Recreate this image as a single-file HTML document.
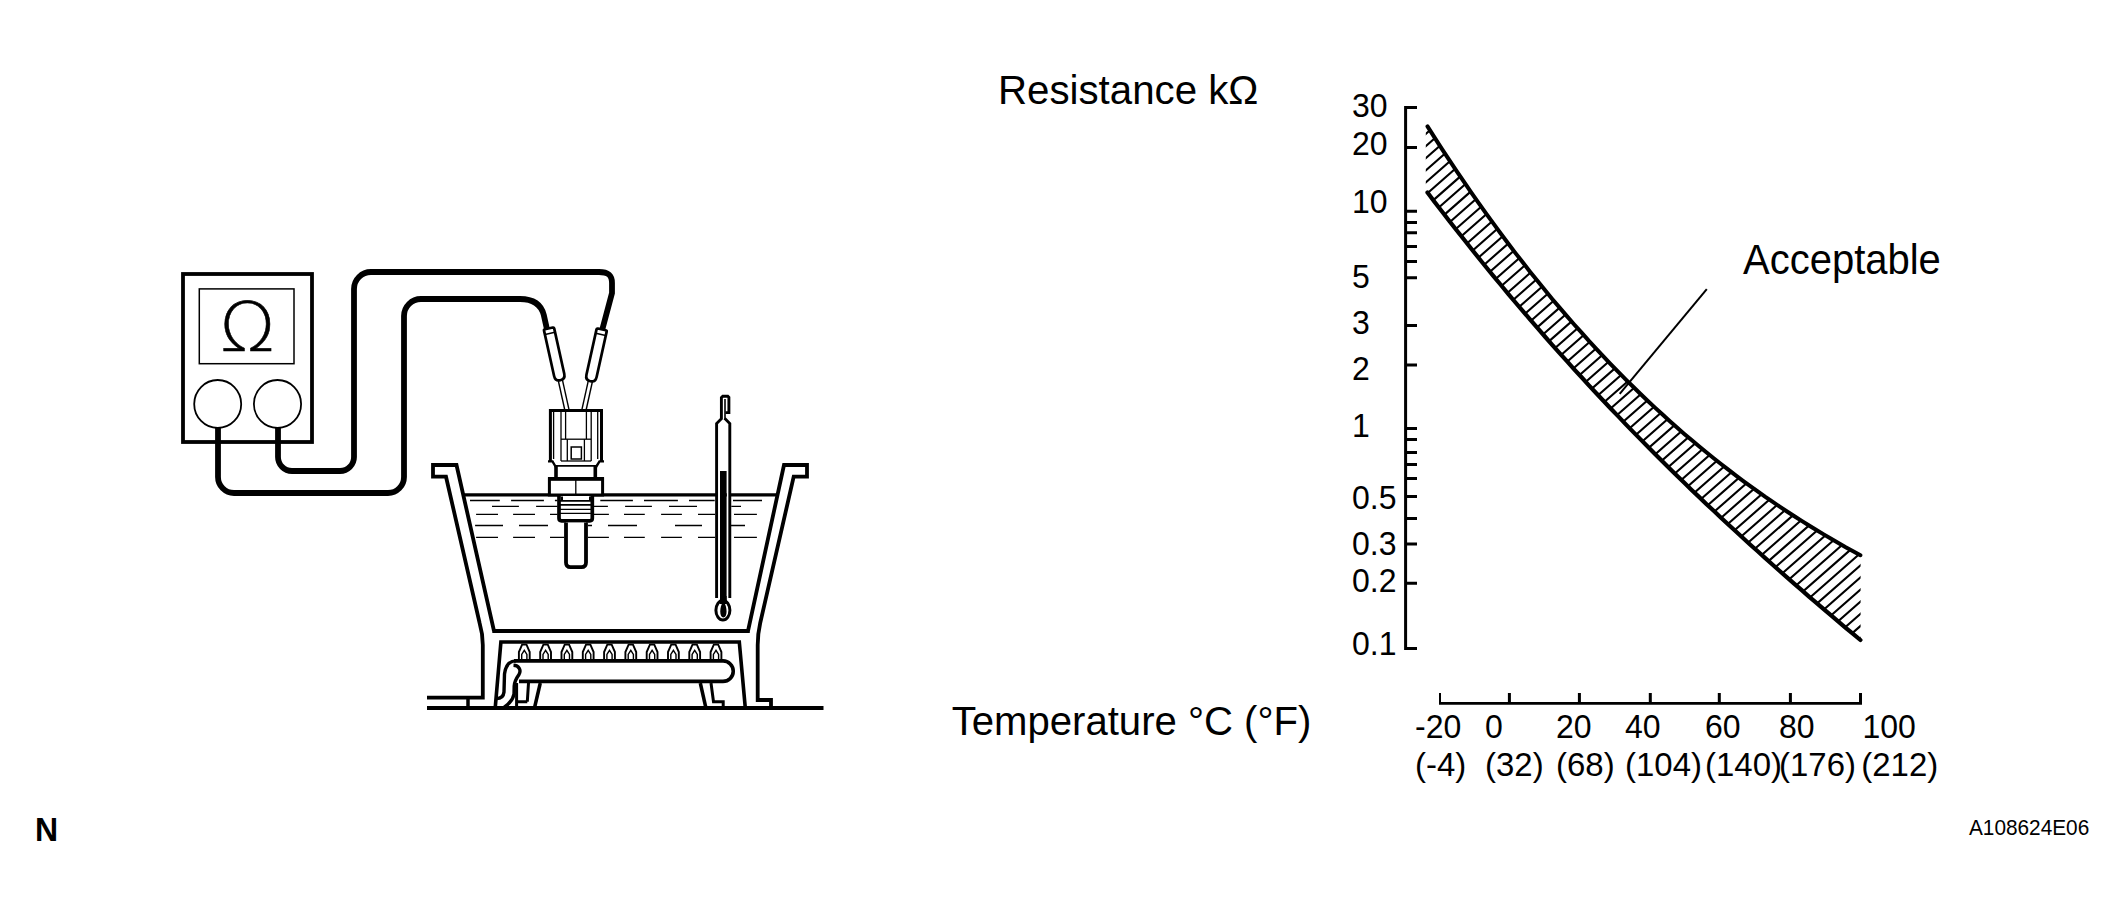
<!DOCTYPE html>
<html><head><meta charset="utf-8"><title>Thermistor resistance check</title>
<style>
html,body{margin:0;padding:0;background:#fff;overflow:hidden;}
svg{display:block;}
text{font-family:"Liberation Sans",Arial,sans-serif;fill:#000;}
.om{font-family:"DejaVu Sans",sans-serif;font-weight:200;}
</style></head><body>
<svg width="2124" height="916" viewBox="0 0 2124 916">
<rect width="2124" height="916" fill="#fff"/>
<rect x="183" y="274" width="129" height="168" fill="none" stroke="#000" stroke-width="3.8"/>
<rect x="199.3" y="288.9" width="94.7" height="74.8" fill="none" stroke="#000" stroke-width="1.5"/>
<text x="0" y="351" font-size="67.5" text-anchor="middle" stroke="#000" stroke-width="0.5" stroke-linejoin="round" class="om" transform="translate(247.4,0) scale(1.08,1)">Ω</text>
<ellipse cx="217.7" cy="404" rx="23.5" ry="24" fill="none" stroke="#000" stroke-width="1.8"/>
<ellipse cx="277.5" cy="404" rx="23.6" ry="24" fill="none" stroke="#000" stroke-width="1.8"/>
<path d="M218,427 V477 A16,16 0 0 0 234,493 H388 A16,16 0 0 0 404,477 V316 A17,17 0 0 1 421,299 H520 C533,299 541,304 543.8,315 L546.8,328.5" fill="none" stroke="#000" stroke-width="5.8"/>
<path d="M278,427 V457 A14,14 0 0 0 292,471 H340 A14,14 0 0 0 354,457 V289 A17,17 0 0 1 371,272 H599 C608,272 612,275 612,283 V293 L602.3,329.5" fill="none" stroke="#000" stroke-width="5.8"/>
<g transform="translate(549,329) rotate(-12.5)"><line x1="-2.1" y1="51" x2="-2.1" y2="83" stroke="#000" stroke-width="1.4"/><line x1="2.1" y1="51" x2="2.1" y2="83" stroke="#000" stroke-width="1.4"/><path d="M-5.2,0.5 Q-5.2,-0.6 -4,-0.6 H4 Q5.2,-0.6 5.2,0.5 V47 Q5.2,52.5 0,52.5 Q-5.2,52.5 -5.2,47 Z" fill="#fff" stroke="#000" stroke-width="2.7"/><line x1="-5" y1="4.5" x2="5" y2="4.5" stroke="#000" stroke-width="1.6"/></g>
<g transform="translate(601.7,330) rotate(12.5)"><line x1="-2.1" y1="51" x2="-2.1" y2="83" stroke="#000" stroke-width="1.4"/><line x1="2.1" y1="51" x2="2.1" y2="83" stroke="#000" stroke-width="1.4"/><path d="M-5.2,0.5 Q-5.2,-0.6 -4,-0.6 H4 Q5.2,-0.6 5.2,0.5 V47 Q5.2,52.5 0,52.5 Q-5.2,52.5 -5.2,47 Z" fill="#fff" stroke="#000" stroke-width="2.7"/><line x1="-5" y1="4.5" x2="5" y2="4.5" stroke="#000" stroke-width="1.6"/></g>
<path d="M550.4,461.5 V410.6 H601.5 V461.5" fill="#fff" stroke="#000" stroke-width="3"/>
<path d="M548,461.4 H552.5 L555.8,467 M604,461.4 H599.5 L596,467" fill="none" stroke="#000" stroke-width="2.4"/>
<line x1="553.6" y1="412" x2="553.6" y2="459" stroke="#000" stroke-width="1.3"/>
<line x1="561" y1="412" x2="561" y2="461" stroke="#000" stroke-width="1.3"/>
<line x1="565.6" y1="412" x2="565.6" y2="439" stroke="#000" stroke-width="1.3"/>
<line x1="586.4" y1="412" x2="586.4" y2="439" stroke="#000" stroke-width="1.3"/>
<line x1="591.2" y1="412" x2="591.2" y2="461" stroke="#000" stroke-width="1.3"/>
<line x1="597.7" y1="412" x2="597.7" y2="459" stroke="#000" stroke-width="1.3"/>
<line x1="561" y1="439.2" x2="591.2" y2="439.2" stroke="#000" stroke-width="1.3"/>
<line x1="561" y1="461" x2="591.2" y2="461" stroke="#000" stroke-width="1.3"/>
<line x1="567.3" y1="439.2" x2="567.3" y2="461" stroke="#000" stroke-width="1.3"/>
<line x1="584.4" y1="439.2" x2="584.4" y2="461" stroke="#000" stroke-width="1.3"/>
<rect x="571.2" y="447" width="10.2" height="12" fill="none" stroke="#000" stroke-width="1.5"/>
<path d="M556,465 V478 M595.3,465 V478" fill="none" stroke="#000" stroke-width="3.6"/>
<path d="M556,465.9 H595.3" fill="none" stroke="#000" stroke-width="1.8"/>
<path d="M470,500.5H499.8M511.1,500.5H543.9M554.9,500.5H557.5M600.3,500.5H632.9M644,500.5H677.9M689,500.5H714.7M733,500.5H762M492,506.4H518.9M536.1,506.4H557.5M593.9,506.4H607.9M625.1,506.4H651.9M669,506.4H697M731.3,506.4H741M476.1,514.4H498M513.1,514.4H535M550,514.4H557.5M594,514.4H608.9M624,514.4H644.8M661.1,514.4H681.9M698,514.4H715M734,514.4H756.9M475.1,525.5H503M519,525.5H548M588,525.5H592M608,525.5H637M675,525.5H702M730.8,525.5H745M476.1,537.3H498M513.1,537.3H535M550,537.3H564.2M588,537.3H608.9M624,537.3H644.8M661.1,537.3H681.9M698,537.3H715M734,537.3H756.9" fill="none" stroke="#000" stroke-width="1.3"/>
<path d="M463,494.8 H776" fill="none" stroke="#000" stroke-width="3.2"/>
<rect x="549.4" y="478.8" width="53.2" height="16.2" fill="#fff" stroke="#000" stroke-width="3"/>
<path d="M548,478.85 H604" fill="none" stroke="#000" stroke-width="3.9"/>
<line x1="575.8" y1="478.8" x2="575.8" y2="494.6" stroke="#000" stroke-width="1.3"/>
<path d="M559,496 V518.3 Q559,520.8 561.5,520.8 H589.8 Q592.3,520.8 592.3,518.3 V496" fill="#fff" stroke="#000" stroke-width="3.7"/>
<path d="M560,500.9H591 M560,504.85H591" fill="none" stroke="#000" stroke-width="1.8"/>
<path d="M560,509.35H591 M560,513.35H591" fill="none" stroke="#000" stroke-width="1.2"/>
<path d="M561,498.3H563 M589,498.3H591" fill="none" stroke="#000" stroke-width="3.4"/>
<path d="M566,522.6 V562.5 Q566,567.2 570.5,567.2 H581.5 Q586,567.2 586,562.5 V522.6" fill="#fff" stroke="#000" stroke-width="3.8"/>
<path d="M716.6,598 V423.5 L721.4,418.7 V397.6 L722.8,396.3 H727.8 L728.9,397.4 V412.6 H725.5 M724.6,418.3 L729.8,423.5 V598" fill="#fff" stroke="#000" stroke-width="2.9"/>
<line x1="725" y1="399" x2="725" y2="420" stroke="#000" stroke-width="1.6"/>
<rect x="720" y="471" width="6.6" height="131" fill="#000"/>
<ellipse cx="722.9" cy="610.3" rx="7" ry="9.8" fill="#fff" stroke="#000" stroke-width="3"/>
<path d="M723.4,601 C727.6,607 727.6,617.4 723.4,617.4 C719.2,617.4 719.2,607 723.4,601 Z" fill="#000"/>
<rect x="720" y="596" width="6.6" height="8" fill="#000"/>
<path d="M494,631 L456.5,465 H433 V476.7 H446 L479.6,623 Q482.8,634 482.8,645 V697.7 H427" fill="none" stroke="#000" stroke-width="3.8" stroke-linejoin="miter"/>
<path d="M468,697.7 V708" fill="none" stroke="#000" stroke-width="3.5"/>
<path d="M492.3,631 H749.8" fill="none" stroke="#000" stroke-width="3.8"/>
<path d="M748,631 L784,465 H807 V476.7 H793.7 L760.2,623 Q757.7,634 757.7,645 V700 H771 V708" fill="none" stroke="#000" stroke-width="3.8" stroke-linejoin="miter"/>
<path d="M495.2,708 L500.9,642 H739.3 L745.3,708" fill="none" stroke="#000" stroke-width="3.6" stroke-linejoin="miter"/>
<path d="M518.9,659 V652 L522.1,644.6 H526.5 L529.7,652 V659" fill="none" stroke="#000" stroke-width="1.9"/>
<path d="M521.7,659 V654.5 L524.3,650.3 L526.9,654.5 V659" fill="none" stroke="#000" stroke-width="1.4"/>
<path d="M540.2,659 V652 L543.4,644.6 H547.8 L551.0,652 V659" fill="none" stroke="#000" stroke-width="1.9"/>
<path d="M543.0,659 V654.5 L545.6,650.3 L548.2,654.5 V659" fill="none" stroke="#000" stroke-width="1.4"/>
<path d="M561.5,659 V652 L564.7,644.6 H569.1 L572.3,652 V659" fill="none" stroke="#000" stroke-width="1.9"/>
<path d="M564.3,659 V654.5 L566.9,650.3 L569.5,654.5 V659" fill="none" stroke="#000" stroke-width="1.4"/>
<path d="M582.8,659 V652 L586.0,644.6 H590.4 L593.6,652 V659" fill="none" stroke="#000" stroke-width="1.9"/>
<path d="M585.6,659 V654.5 L588.2,650.3 L590.8,654.5 V659" fill="none" stroke="#000" stroke-width="1.4"/>
<path d="M604.1,659 V652 L607.3,644.6 H611.7 L614.9,652 V659" fill="none" stroke="#000" stroke-width="1.9"/>
<path d="M606.9,659 V654.5 L609.5,650.3 L612.1,654.5 V659" fill="none" stroke="#000" stroke-width="1.4"/>
<path d="M625.4,659 V652 L628.6,644.6 H633.0 L636.2,652 V659" fill="none" stroke="#000" stroke-width="1.9"/>
<path d="M628.2,659 V654.5 L630.8,650.3 L633.4,654.5 V659" fill="none" stroke="#000" stroke-width="1.4"/>
<path d="M646.7,659 V652 L649.9,644.6 H654.3 L657.5,652 V659" fill="none" stroke="#000" stroke-width="1.9"/>
<path d="M649.5,659 V654.5 L652.1,650.3 L654.7,654.5 V659" fill="none" stroke="#000" stroke-width="1.4"/>
<path d="M668.0,659 V652 L671.2,644.6 H675.6 L678.8,652 V659" fill="none" stroke="#000" stroke-width="1.9"/>
<path d="M670.8,659 V654.5 L673.4,650.3 L676.0,654.5 V659" fill="none" stroke="#000" stroke-width="1.4"/>
<path d="M689.3,659 V652 L692.5,644.6 H696.9 L700.1,652 V659" fill="none" stroke="#000" stroke-width="1.9"/>
<path d="M692.1,659 V654.5 L694.7,650.3 L697.3,654.5 V659" fill="none" stroke="#000" stroke-width="1.4"/>
<path d="M710.6,659 V652 L713.8,644.6 H718.2 L721.4,652 V659" fill="none" stroke="#000" stroke-width="1.9"/>
<path d="M713.4,659 V654.5 L716.0,650.3 L718.6,654.5 V659" fill="none" stroke="#000" stroke-width="1.4"/>
<path d="M514,660.9 H723 A10.25,10.25 0 0 1 723,681.4 H519" fill="#fff" stroke="#000" stroke-width="3.6"/>
<path d="M516,660.9 C509,661 505.5,666 504.5,674 L504,692 C503.5,697 500,698.5 496.5,698.5" fill="none" stroke="#000" stroke-width="3.4"/>
<path d="M513.5,665.3 C519,665.5 521.5,670 519,674.5 C516.5,678 514.5,681 514.2,686 L514,694 C513,700 509,704 504,707.5" fill="none" stroke="#000" stroke-width="3.4"/>
<path d="M516.6,683 V707 M516.6,701.7 H527.3 M528.5,683 L527.3,701.7" fill="none" stroke="#000" stroke-width="3"/>
<path d="M540.3,683 L534.7,707" fill="none" stroke="#000" stroke-width="3.5"/>
<path d="M700.3,683 L705.7,707" fill="none" stroke="#000" stroke-width="3.5"/>
<path d="M711,683 L713.5,701.8 H723.2 V707" fill="none" stroke="#000" stroke-width="3"/>
<path d="M427,708 H823.5" fill="none" stroke="#000" stroke-width="3.8"/>
<path d="M1417,107.4 H1405.6 V648.6 H1417" fill="none" stroke="#000" stroke-width="3" stroke-linejoin="miter"/>
<path d="M1405.6,147.4H1417M1405.6,211.2H1417M1405.6,222.4H1417M1405.6,232.7H1417M1405.6,246.4H1417M1405.6,261.5H1417M1405.6,277.8H1417M1405.6,325.5H1417M1405.6,365.1H1417M1405.6,428.5H1417M1405.6,439.4H1417M1405.6,452.4H1417M1405.6,464.5H1417M1405.6,478.5H1417M1405.6,496.5H1417M1405.6,518.4H1417M1405.6,543.9H1417M1405.6,583.2H1417" fill="none" stroke="#000" stroke-width="3"/>
<path d="M1439,703.4H1862" fill="none" stroke="#000" stroke-width="2.8"/>
<path d="M1440,704V692.9" fill="none" stroke="#000" stroke-width="2"/>
<path d="M1509.4,703.3V692.9M1579.4,703.3V692.9M1650.3,703.3V692.9M1719.3,703.3V692.9M1790.4,703.3V692.9M1860.5,703.3V692.9" fill="none" stroke="#000" stroke-width="3"/>
<clipPath id="hc"><polygon points="1425.8,123.7 1433.2,135.3 1440.5,146.7 1447.9,158.0 1455.3,169.1 1462.6,179.9 1470.0,190.7 1477.4,201.2 1484.8,211.6 1492.1,221.8 1499.5,231.8 1506.9,241.7 1514.2,251.4 1521.6,260.9 1529.0,270.3 1536.3,279.5 1543.7,288.6 1551.1,297.5 1558.5,306.2 1565.8,314.8 1573.2,323.3 1580.6,331.6 1587.9,339.8 1595.3,347.8 1602.7,355.7 1610.0,363.4 1617.4,371.0 1624.8,378.4 1632.1,385.8 1639.5,392.9 1646.9,400.0 1654.3,406.9 1661.6,413.7 1669.0,420.4 1676.4,426.9 1683.7,433.4 1691.1,439.7 1698.5,445.8 1705.8,451.9 1713.2,457.9 1720.6,463.7 1727.9,469.4 1735.3,475.0 1742.7,480.5 1750.1,485.9 1757.4,491.2 1764.8,496.4 1772.2,501.5 1779.5,506.5 1786.9,511.4 1794.3,516.2 1801.6,520.9 1809.0,525.5 1816.4,530.0 1823.8,534.5 1831.1,538.8 1838.5,543.1 1845.9,547.2 1853.2,551.3 1860.6,555.4 1860.6,640.2 1853.2,634.1 1845.9,627.9 1838.5,621.7 1831.1,615.5 1823.8,609.2 1816.4,602.9 1809.0,596.6 1801.6,590.2 1794.3,583.8 1786.9,577.3 1779.5,570.8 1772.2,564.3 1764.8,557.7 1757.4,551.1 1750.1,544.5 1742.7,537.7 1735.3,531.0 1727.9,524.2 1720.6,517.3 1713.2,510.4 1705.8,503.5 1698.5,496.4 1691.1,489.4 1683.7,482.3 1676.4,475.1 1669.0,467.8 1661.6,460.6 1654.3,453.2 1646.9,445.8 1639.5,438.3 1632.1,430.8 1624.8,423.2 1617.4,415.5 1610.0,407.8 1602.7,400.0 1595.3,392.2 1587.9,384.2 1580.6,376.2 1573.2,368.2 1565.8,360.0 1558.5,351.8 1551.1,343.5 1543.7,335.2 1536.3,326.7 1529.0,318.2 1521.6,309.6 1514.2,300.9 1506.9,292.2 1499.5,283.3 1492.1,274.4 1484.8,265.4 1477.4,256.3 1470.0,247.2 1462.6,237.9 1455.3,228.5 1447.9,219.1 1440.5,209.6 1433.2,200.0 1425.8,190.3"/></clipPath>
<path d="M1420,-18.78L1870,-414.33M1420,-6.64L1870,-402.19M1420,5.50L1870,-390.05M1420,17.64L1870,-377.91M1420,29.78L1870,-365.77M1420,41.92L1870,-353.63M1420,54.06L1870,-341.49M1420,66.20L1870,-329.35M1420,78.34L1870,-317.21M1420,90.48L1870,-305.07M1420,102.62L1870,-292.93M1420,114.76L1870,-280.79M1420,126.90L1870,-268.65M1420,139.04L1870,-256.51M1420,151.18L1870,-244.37M1420,163.32L1870,-232.23M1420,175.46L1870,-220.09M1420,187.60L1870,-207.95M1420,199.74L1870,-195.81M1420,211.88L1870,-183.67M1420,224.02L1870,-171.53M1420,236.16L1870,-159.39M1420,248.30L1870,-147.25M1420,260.44L1870,-135.11M1420,272.58L1870,-122.97M1420,284.72L1870,-110.83M1420,296.86L1870,-98.69M1420,309.00L1870,-86.55M1420,321.14L1870,-74.41M1420,333.28L1870,-62.27M1420,345.42L1870,-50.13M1420,357.56L1870,-37.99M1420,369.70L1870,-25.85M1420,381.84L1870,-13.71M1420,393.98L1870,-1.57M1420,406.12L1870,10.57M1420,418.26L1870,22.71M1420,430.40L1870,34.85M1420,442.54L1870,46.99M1420,454.68L1870,59.13M1420,466.82L1870,71.27M1420,478.96L1870,83.41M1420,491.10L1870,95.55M1420,503.24L1870,107.69M1420,515.38L1870,119.83M1420,527.52L1870,131.97M1420,539.66L1870,144.11M1420,551.80L1870,156.25M1420,563.94L1870,168.39M1420,576.08L1870,180.53M1420,588.22L1870,192.67M1420,600.36L1870,204.81M1420,612.50L1870,216.95M1420,624.64L1870,229.09M1420,636.78L1870,241.23M1420,648.92L1870,253.37M1420,661.06L1870,265.51M1420,673.20L1870,277.65M1420,685.34L1870,289.79M1420,697.48L1870,301.93M1420,709.62L1870,314.07M1420,721.76L1870,326.21M1420,733.90L1870,338.35M1420,746.04L1870,350.49M1420,758.18L1870,362.63M1420,770.32L1870,374.77M1420,782.46L1870,386.91M1420,794.60L1870,399.05M1420,806.74L1870,411.19M1420,818.88L1870,423.33M1420,831.02L1870,435.47M1420,843.16L1870,447.61M1420,855.30L1870,459.75M1420,867.44L1870,471.89M1420,879.58L1870,484.03M1420,891.72L1870,496.17M1420,903.86L1870,508.31M1420,916.00L1870,520.45M1420,928.14L1870,532.59M1420,940.28L1870,544.73M1420,952.42L1870,556.87M1420,964.56L1870,569.01M1420,976.70L1870,581.15M1420,988.84L1870,593.29M1420,1000.98L1870,605.43M1420,1013.12L1870,617.57M1420,1025.26L1870,629.71M1420,1037.40L1870,641.85M1420,1049.54L1870,653.99" clip-path="url(#hc)" fill="none" stroke="#000" stroke-width="2.1"/>
<polyline points="1427.5,126.4 1434.8,137.9 1442.2,149.3 1449.5,160.4 1456.8,171.4 1464.2,182.2 1471.5,192.8 1478.9,203.3 1486.2,213.6 1493.5,223.7 1500.9,233.7 1508.2,243.5 1515.5,253.1 1522.9,262.6 1530.2,271.9 1537.6,281.0 1544.9,290.0 1552.2,298.9 1559.6,307.6 1566.9,316.1 1574.2,324.5 1581.6,332.7 1588.9,340.9 1596.3,348.8 1603.6,356.6 1610.9,364.3 1618.3,371.9 1625.6,379.3 1632.9,386.5 1640.3,393.7 1647.6,400.7 1655.0,407.6 1662.3,414.3 1669.6,421.0 1677.0,427.5 1684.3,433.9 1691.6,440.1 1699.0,446.3 1706.3,452.3 1713.7,458.2 1721.0,464.0 1728.3,469.7 1735.7,475.3 1743.0,480.8 1750.3,486.1 1757.7,491.4 1765.0,496.6 1772.4,501.6 1779.7,506.6 1787.0,511.5 1794.4,516.3 1801.7,520.9 1809.0,525.5 1816.4,530.0 1823.7,534.4 1831.1,538.8 1838.4,543.0 1845.7,547.2 1853.1,551.2 1860.4,555.2" fill="none" stroke="#000" stroke-width="4" stroke-linecap="round"/>
<polyline points="1427.5,192.5 1434.8,202.2 1442.2,211.7 1449.5,221.2 1456.8,230.5 1464.2,239.8 1471.5,249.0 1478.9,258.2 1486.2,267.2 1493.5,276.1 1500.9,285.0 1508.2,293.8 1515.5,302.5 1522.9,311.1 1530.2,319.6 1537.6,328.1 1544.9,336.5 1552.2,344.8 1559.6,353.1 1566.9,361.2 1574.2,369.3 1581.6,377.3 1588.9,385.3 1596.3,393.2 1603.6,401.0 1610.9,408.8 1618.3,416.4 1625.6,424.1 1632.9,431.6 1640.3,439.1 1647.6,446.5 1655.0,453.9 1662.3,461.2 1669.6,468.5 1677.0,475.7 1684.3,482.8 1691.6,489.9 1699.0,496.9 1706.3,503.9 1713.7,510.8 1721.0,517.7 1728.3,524.5 1735.7,531.3 1743.0,538.0 1750.3,544.7 1757.7,551.3 1765.0,557.9 1772.4,564.5 1779.7,571.0 1787.0,577.4 1794.4,583.9 1801.7,590.2 1809.0,596.6 1816.4,602.9 1823.7,609.2 1831.1,615.4 1838.4,621.6 1845.7,627.8 1853.1,633.9 1860.4,640.0" fill="none" stroke="#000" stroke-width="4.2" stroke-linecap="round"/>
<path d="M1706.8,289.1 L1619.7,393.9" fill="none" stroke="#000" stroke-width="2"/>
<text font-size="39" transform="translate(998,104) scale(1.032,1.04)">Resistance kΩ</text>
<text font-size="38.5" transform="translate(951.7,734.7) scale(1.0417,1.04)">Temperature °C (°F)</text>
<text font-size="40" transform="translate(1743,274) scale(1.0,1.04)">Acceptable</text>
<text font-size="32" transform="translate(1352,116.5) scale(1.0,1.06)">30</text>
<text font-size="32" transform="translate(1352,154.8) scale(1.0,1.06)">20</text>
<text font-size="32" transform="translate(1352,213.3) scale(1.0,1.06)">10</text>
<text font-size="32" transform="translate(1352,287.5) scale(1.0,1.06)">5</text>
<text font-size="32" transform="translate(1352,333.5) scale(1.0,1.06)">3</text>
<text font-size="32" transform="translate(1352,379.8) scale(1.0,1.06)">2</text>
<text font-size="32" transform="translate(1352,436.5) scale(1.0,1.06)">1</text>
<text font-size="32" transform="translate(1352,508.8) scale(1.0,1.06)">0.5</text>
<text font-size="32" transform="translate(1352,554.8) scale(1.0,1.06)">0.3</text>
<text font-size="32" transform="translate(1352,591.8) scale(1.0,1.06)">0.2</text>
<text font-size="32" transform="translate(1352,654.6) scale(1.0,1.06)">0.1</text>
<text font-size="32" transform="translate(1415,737.8) scale(1.0,1.06)">-20</text>
<text font-size="32" transform="translate(1415,776) scale(1.03,1.06)">(-4)</text>
<text font-size="32" transform="translate(1485,737.8) scale(1.0,1.06)">0</text>
<text font-size="32" transform="translate(1485,776) scale(1.03,1.06)">(32)</text>
<text font-size="32" transform="translate(1556,737.8) scale(1.0,1.06)">20</text>
<text font-size="32" transform="translate(1556,776) scale(1.03,1.06)">(68)</text>
<text font-size="32" transform="translate(1625,737.8) scale(1.0,1.06)">40</text>
<text font-size="32" transform="translate(1625,776) scale(1.03,1.06)">(104)</text>
<text font-size="32" transform="translate(1705,737.8) scale(1.0,1.06)">60</text>
<text font-size="32" transform="translate(1705,776) scale(1.03,1.06)">(140)</text>
<text font-size="32" transform="translate(1779,737.8) scale(1.0,1.06)">80</text>
<text font-size="32" transform="translate(1779,776) scale(1.03,1.06)">(176)</text>
<text font-size="32" transform="translate(1862.5,737.8) scale(1.0,1.06)">100</text>
<text font-size="32" transform="translate(1861.3,776) scale(1.03,1.06)">(212)</text>
<text font-size="32" font-weight="bold" transform="translate(35,840.9) scale(1.0,1.05)">N</text>
<text font-size="20.8" transform="translate(1969,835) scale(1.0,1.06)">A108624E06</text>
</svg>
</body></html>
